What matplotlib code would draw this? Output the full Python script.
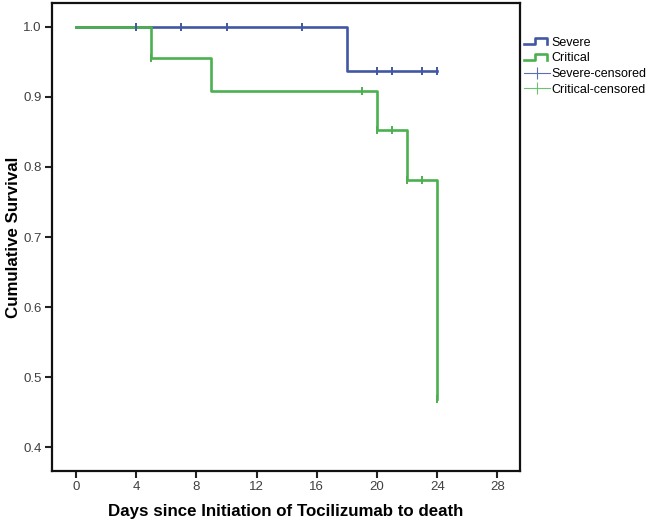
import matplotlib
matplotlib.use("Agg")
import matplotlib.pyplot as plt
from matplotlib.legend_handler import HandlerBase
from matplotlib.lines import Line2D

plt.rcParams["font.family"] = ["Liberation Sans", "DejaVu Sans"]

# ----- Kaplan-Meier steps -----
severe_t = [0, 18, 24]
severe_s = [1.0, 0.9375, 0.9375]
critical_t = [0, 5, 9, 20, 22, 24]
critical_s = [1.0, 0.955, 0.908, 0.853, 0.782, 0.469]

# censored observations
severe_cens_t = [4, 7, 10, 15, 20, 21, 23, 24]
severe_cens_s = [1.0, 1.0, 1.0, 1.0, 0.9375, 0.9375, 0.9375, 0.9375]
critical_cens_t = [5, 19, 20, 21, 22, 23, 24]
critical_cens_s = [0.955, 0.908, 0.853, 0.853, 0.782, 0.782, 0.469]

x_ticks = [0, 4, 8, 12, 16, 20, 24, 28]
y_ticks = [0.4, 0.5, 0.6, 0.7, 0.8, 0.9, 1.0]

BLUE = "#4257a3"
GREEN = "#4cb050"


class StepHandler(HandlerBase):
    """Legend icon drawn as a small step, like SPSS survival plots."""
    def create_artists(self, legend, orig_handle, xdescent, ydescent,
                       width, height, fontsize, trans):
        lo, hi = 0.15 * height, 0.85 * height
        xs = [0, 0.45 * width, 0.45 * width, 0.9 * width, 0.9 * width]
        ys = [lo, lo, hi, hi, lo]
        ln = Line2D(xs, ys, color=orig_handle.get_color(),
                    lw=orig_handle.get_linewidth(), transform=trans)
        return [ln]


fig = plt.figure(figsize=(6.53, 5.24), dpi=100)
ax = fig.add_axes([0.0796, 0.1011, 0.7167, 0.8932])

l_sev, = ax.step(severe_t, severe_s, where="post", color=BLUE, lw=1.9, label="Severe")
l_cri, = ax.step(critical_t, critical_s, where="post", color=GREEN, lw=1.9, label="Critical")
ax.plot(severe_cens_t, severe_cens_s, ls="none", marker="|", ms=6, mew=1.4,
        color=BLUE, zorder=4)
ax.plot(critical_cens_t, critical_cens_s, ls="none", marker="|", ms=6, mew=1.4,
        color=GREEN, zorder=4)

ax.set_xlim(-1.6, 29.5)
ax.set_ylim(0.366, 1.034)
ax.set_xticks(x_ticks)
ax.set_yticks(y_ticks)
ax.set_yticklabels([f"{v:.1f}" for v in y_ticks])
ax.tick_params(axis="both", direction="out", length=5, width=1.5, pad=2.5,
               labelsize=9.5, labelcolor="#404040", color="#222222")
for sp in ax.spines.values():
    sp.set_linewidth(1.6)
    sp.set_color("#111111")

ax.set_xlabel("Days since Initiation of Tocilizumab to death", fontsize=12.2,
              fontweight="bold")
ax.xaxis.set_label_coords(0.5, -0.07)
ax.set_ylabel("Cumulative Survival", fontsize=12.2, fontweight="bold")
ax.yaxis.set_label_coords(-0.067, 0.5)

h_sev_c = Line2D([], [], ls="-", lw=0.8, marker="|", ms=9, mew=0.8, color="#5a6fb5")
h_cri_c = Line2D([], [], ls="-", lw=0.8, marker="|", ms=9, mew=0.8, color="#6cc26f")
fig.legend([l_sev, l_cri, h_sev_c, h_cri_c],
           ["Severe", "Critical", "Severe-censored", "Critical-censored"],
           handler_map={l_sev: StepHandler(), l_cri: StepHandler()},
           loc="upper left", bbox_to_anchor=(0.798, 0.935), frameon=False,
           fontsize=9, handlelength=2.1, handletextpad=0.1, labelspacing=0.3,
           borderaxespad=0, borderpad=0.2)

fig.savefig("out.png", dpi=100)
